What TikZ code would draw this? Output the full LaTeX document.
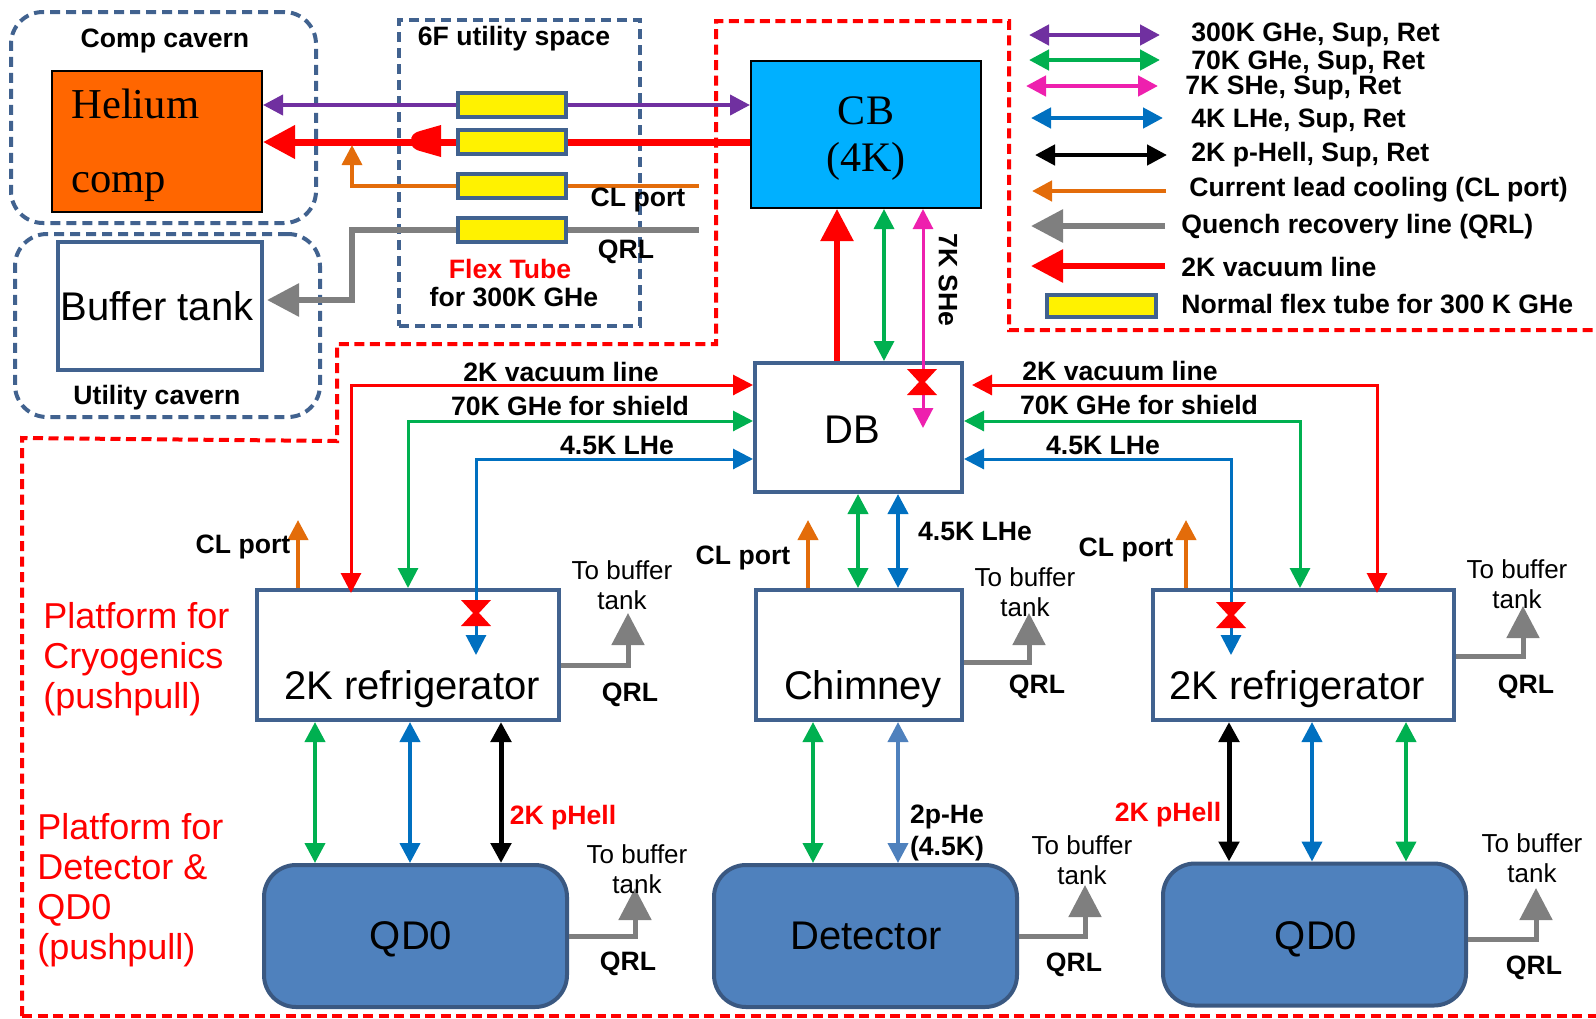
\documentclass[tikz,border=0pt]{standalone}
\usepackage{fontspec}
\setmainfont{Liberation Sans}
\newfontfamily\serifname{Liberation Serif}
\usetikzlibrary{arrows.meta}
\definecolor{cpurple}{HTML}{7030A0}
\definecolor{cgreen}{HTML}{00B050}
\definecolor{cpink}{HTML}{EE20AE}
\definecolor{cblue}{HTML}{0070C0}
\definecolor{corange}{HTML}{E36C0A}
\definecolor{cgray}{HTML}{7F7F7F}
\definecolor{cnavy}{HTML}{41628F}
\definecolor{cfill}{HTML}{4F81BD}
\tikzset{bigtip/.tip={Triangle[length=16pt,width=16pt]}}

\begin{document}
\begin{tikzpicture}[x=0.5pt, y=-0.5pt, >={Triangle[length=10pt,width=10pt]}]
  \tikzstyle{cavern}=[draw=cnavy, line width=2pt, dash pattern=on 5pt off 3pt, rounded corners=16pt, inner sep=0pt]
  \tikzstyle{space}=[draw=cnavy, line width=2pt, dash pattern=on 5pt off 3pt, inner sep=0pt]
  \tikzstyle{unit}=[draw=cnavy, line width=2pt, fill=white, inner sep=0pt, font=\fontsize{20}{24}\selectfont]
  \tikzstyle{cold}=[unit, fill=cfill, draw=cnavy!90!black, rounded corners=16pt, minimum width=151.5pt, minimum height=71pt]
  \tikzstyle{flex}=[draw=cnavy, line width=2pt, fill=yellow, minimum width=54pt, minimum height=12pt, inner sep=0pt]
  \tikzstyle{lbl}=[inner sep=0pt, font=\fontsize{13.3}{16}\selectfont\bfseries]
  \tikzstyle{big}=[inner sep=0pt, font=\fontsize{20}{24}\selectfont]
  \tikzstyle{plat}=[inner sep=0pt, anchor=west, align=left, text=red, font=\fontsize{18}{20}\selectfont]
  \tikzstyle{small}=[inner sep=0pt, align=center, font=\fontsize{13}{15}\selectfont]
  \tikzstyle{qrl}=[draw=cgray, line width=2.5pt, -bigtip]

  \useasboundingbox (0,0) rectangle (1596,1018);

  % boundary of the tunnel region
  \draw[red, line width=2pt, dash pattern=on 5pt off 2.75pt] (22,1016) -- (22,438) -- (337,441) -- (337,344) -- (716,344) -- (716,21) -- (1009,21) -- (1009,330) -- (1596,330);
  \draw[red, line width=2pt, dash pattern=on 5pt off 2.75pt] (22,1016) -- (1596,1016);

  \node[cavern, minimum width=152.5pt, minimum height=105.5pt] (CC) at (163.5,117.5) {};
  \node[cavern, minimum width=152.5pt, minimum height=91.5pt] (UC) at (167.5,325.5) {};
  \node[space, minimum width=120.5pt, minimum height=153pt] (US) at (519.5,173) {};

  \node[draw=black, line width=1pt, fill={rgb,255:red,255;green,102;blue,0}, minimum width=105pt, minimum height=70.5pt, inner sep=0pt] (HC) at (157,141.5) {};
  \node[unit, minimum width=102pt, minimum height=64pt] (BT) at (160,306) {};
  \node[draw=black, line width=1pt, fill={rgb,255:red,0;green,176;blue,255}, minimum width=115pt, minimum height=73.5pt, inner sep=0pt] (CB) at (866,134.5) {};
  \node[unit, minimum width=103.5pt, minimum height=64.5pt] (DB) at (858.5,427.5) {};
  \node[unit, minimum width=151pt, minimum height=65pt] (RL) at (408,655) {};
  \node[unit, minimum width=103pt, minimum height=65pt] (CH) at (859,655) {};
  \node[unit, minimum width=150.5pt, minimum height=65pt] (RR) at (1303.5,655) {};
  \node[cold] (QL) at (415.5,936) {};
  \node[cold] (DE) at (865.5,936) {};
  \node[cold] (QR) at (1314.5,934.5) {};

  \node[flex] (FA) at (512,105) {};
  \node[flex] (FB) at (512,142) {};
  \node[flex] (FC) at (512,186) {};
  \node[flex] (FD) at (512,230) {};

  \coordinate (CLend) at (699,186);
  \coordinate (QRend) at (699,230);
  \coordinate (DBend) at (972,385);
  \coordinate (SHend) at (923,428);
  \coordinate (LLend) at (476,655);
  \coordinate (LRend) at (1231,655);
  \coordinate (CLup) at (352,145);
  \coordinate (QRbend) at (352,300);
  \coordinate (BTend) at (267,300);

  % lines through the flex tubes
  \draw[<-, cpurple, line width=2pt] (HC.east |- FA.west) -- (FA.west);
  \draw[->, cpurple, line width=2pt] (FA.east) -- (CB.west |- FA.east);
  \draw[-bigtip, red, line width=3.5pt] (FB.west) -- (HC.east |- FB.west);
  \draw[red, line width=3.5pt] (FB.east) -- (CB.west |- FB.east);
  \fill[red] (441,125) -- (441,157) -- (420,151) .. controls (413,149) and (411,146) .. (411,141) .. controls (411,136) and (413,133) .. (420,131) -- cycle;
  \draw[->, corange, line width=1.75pt] (FC.west) -| (CLup);
  \draw[corange, line width=1.75pt] (FC.east) -- (CLend);
  \draw[-bigtip, cgray, line width=3pt] (FD.west) -| (QRbend) -- (BTend);
  \draw[cgray, line width=3pt] (FD.east) -- (QRend);

  % CB to DB
  \draw[-bigtip, red, line width=2.75pt] (DB.north -| 837,0) -- (CB.south -| 837,0);
  \draw[<->, cgreen, line width=1.75pt] (CB.south -| 884,0) -- (DB.north -| 884,0);
  \draw[<->, cpink, line width=1.5pt] (CB.south -| 923,0) -- (SHend);

  % refrigerators to DB
  \draw[<->, red, line width=1.5pt, shorten >=-2.5pt] (DB.west |- 0,385) -| (RL.north -| 351,0);
  \draw[<->, cgreen, line width=1.5pt] (DB.west |- 0,421) -| (RL.north -| 408,0);
  \draw[<->, cblue, line width=1.5pt] (DB.west |- 0,459) -| (LLend);
  \draw[<->, red, line width=1.5pt, shorten >=-2.5pt] (DBend) -| (RR.north -| 1377,0);
  \draw[<->, cgreen, line width=1.5pt] (DB.east |- 0,421) -| (RR.north -| 1300,0);
  \draw[<->, cblue, line width=1.5pt] (DB.east |- 0,459) -| (LRend);

  % current lead ports
  \foreach \bx/\xx in {RL/298, CH/808, RR/1186} {
    \coordinate (cl\bx) at (\xx,520);
    \draw[->, corange, line width=2pt] (\bx.north -| \xx,0) -- (cl\bx);
  }

  % DB to chimney
  \draw[<->, cgreen, line width=2pt] (DB.south -| 858,0) -- (CH.north -| 858,0);
  \draw[<->, cblue, line width=2pt] (DB.south -| 898,0) -- (CH.north -| 898,0);

  % platform below
  \draw[<->, cgreen, line width=2pt] (RL.south -| 315,0) -- (QL.north -| 315,0);
  \draw[<->, cblue, line width=2pt] (RL.south -| 410,0) -- (QL.north -| 410,0);
  \draw[<->, black, line width=2.5pt] (RL.south -| 501,0) -- (QL.north -| 501,0);
  \draw[<->, cgreen, line width=2pt] (CH.south -| 813,0) -- (DE.north -| 813,0);
  \draw[<->, cfill, line width=2pt] (CH.south -| 898,0) -- (DE.north -| 898,0);
  \draw[<->, black, line width=2.5pt] (RR.south -| 1229,0) -- (QR.north -| 1229,0);
  \draw[<->, cblue, line width=2pt] (RR.south -| 1312,0) -- (QR.north -| 1312,0);
  \draw[<->, cgreen, line width=2pt] (RR.south -| 1406,0) -- (QR.north -| 1406,0);

  % valves
  \foreach \xx/\yy in {922/382, 476/613, 1231/615} {
    \fill[red] (\xx-15,\yy-13) -- (\xx+15,\yy-13) -- (\xx+3,\yy) -- (\xx+15,\yy+13) -- (\xx-15,\yy+13) -- (\xx-3,\yy) -- cycle;
  }

  % quench lines
  \foreach \bx/\yy/\xx/\ty/\qx/\qy/\tx/\tya in {RL/665/628/613/630/695/622/585, CH/662/1029/613/1037/687/1025/592, RR/656/1523/606/1526/687/1517/584, QL/936/635/888/628/964/637/869, DE/936/1085/885/1074/965/1082/860, QR/939/1536/888/1534/968/1532/858} {
    \coordinate (q\bx) at (\xx,\ty);
    \draw[qrl] (\bx.east |- 0,\yy) -| (q\bx);
    \node[lbl] (qt\bx) at (\qx,\qy) {QRL};
    \node[small] (bt\bx) at (\tx,\tya) {To buffer\\tank};
  }

  % legend
  \foreach \nm/\yy/\xa/\xb/\cc/\lx/\ly/\txt in {a/35/1029/1160/cpurple/1191/35/{300K GHe, Sup, Ret}, b/60/1029/1160/cgreen/1191/63/{70K GHe, Sup, Ret}, c/86/1026/1158/cpink/1185/88/{7K SHe, Sup, Ret}, d/118/1031/1163/cblue/1191/121/{4K LHe, Sup, Ret}, e/155/1035/1167/black/1191/155/{2K p-Hell, Sup, Ret}} {
    \coordinate (la\nm) at (\xa,\yy);
    \coordinate (lb\nm) at (\xb,\yy);
    \draw[<->, \cc, line width=2.25pt] (la\nm) -- (lb\nm);
    \node[lbl, anchor=west] (lt\nm) at (\lx,\ly) {\txt};
  }
  \coordinate (laf) at (1032,191);
  \coordinate (lbf) at (1166,191);
  \coordinate (lag) at (1031,226);
  \coordinate (lbg) at (1165,226);
  \coordinate (lah) at (1031,266);
  \coordinate (lbh) at (1165,266);
  \draw[->, corange, line width=2.25pt] (lbf) -- (laf);
  \draw[-bigtip, cgray, line width=3pt] (lbg) -- (lag);
  \draw[-bigtip, red, line width=3pt] (lbh) -- (lah);
  \node[flex, minimum width=54.5pt, minimum height=11pt] (FL) at (1101.5,306) {};
  \node[lbl, anchor=west] (ltf) at (1189,190) {Current lead cooling (CL port)};
  \node[lbl, anchor=west] (ltg) at (1181,227) {Quench recovery line (QRL)};
  \node[lbl, anchor=west] (lth) at (1181,267) {2K vacuum line};
  \node[lbl, anchor=west] (lti) at (1181,304) {Normal flex tube for 300 K GHe};

  % texts
  \node[inner sep=0pt, anchor=west, align=left, font=\serifname\fontsize{21.3}{37}\selectfont] (HCt) at (71,145) {Helium\\comp};
  \node[inner sep=0pt, align=center, font=\serifname\fontsize{21}{23.5}\selectfont] (CBt) at (866,139) {CB\\(4K)};
  \node[big] (BTt) at (157,306) {Buffer tank};
  \node[big] (DBt) at (852,430) {DB};
  \node[big] (RLt) at (412,689) {2K refrigerator};
  \node[big] (CHt) at (863,689) {Chimney};
  \node[big] (RRt) at (1297,689) {2K refrigerator};
  \node[big] (QLt) at (411,939) {QD0};
  \node[big] (DEt) at (866,936) {Detector};
  \node[big] (QRt) at (1316,939) {QD0};
  \node[lbl] (CCt) at (165,41) {Comp cavern};
  \node[lbl] (UCt) at (157,398) {Utility cavern};
  \node[lbl] (USt) at (514,39) {6F utility space};
  \node[lbl, text=red] (FTa) at (510,269) {Flex Tube};
  \node[lbl] (FTb) at (514,297) {for 300K GHe};
  \node[lbl] (CPa) at (638,200) {CL port};
  \node[lbl] (QRa) at (626,252) {QRL};
  \node[lbl, rotate=-90] (SHt) at (948,280) {7K SHe};
  \node[lbl] (VLa) at (561,372) {2K vacuum line};
  \node[lbl] (SLa) at (570,406) {70K GHe for shield};
  \node[lbl] (HLa) at (617,445) {4.5K LHe};
  \node[lbl] (VLb) at (1120,371) {2K vacuum line};
  \node[lbl] (SLb) at (1139,405) {70K GHe for shield};
  \node[lbl] (HLb) at (1103,445) {4.5K LHe};
  \node[lbl] (HLc) at (975,531) {4.5K LHe};
  \node[lbl] (CPb) at (243,547) {CL port};
  \node[lbl] (CPc) at (743,558) {CL port};
  \node[lbl] (CPd) at (1126,550) {CL port};
  \node[lbl, text=red] (PHa) at (563,818) {2K pHell};
  \node[lbl, text=red] (PHb) at (1168,815) {2K pHell};
  \node[lbl, align=center] (TPH) at (947,833) {2p-He\\(4.5K)};
  \node[plat] (PFa) at (43,659) {Platform for\\Cryogenics\\(pushpull)};
  \node[plat] (PFb) at (37,890) {Platform for\\Detector \&\\QD0\\(pushpull)};

\end{tikzpicture}
\end{document}
